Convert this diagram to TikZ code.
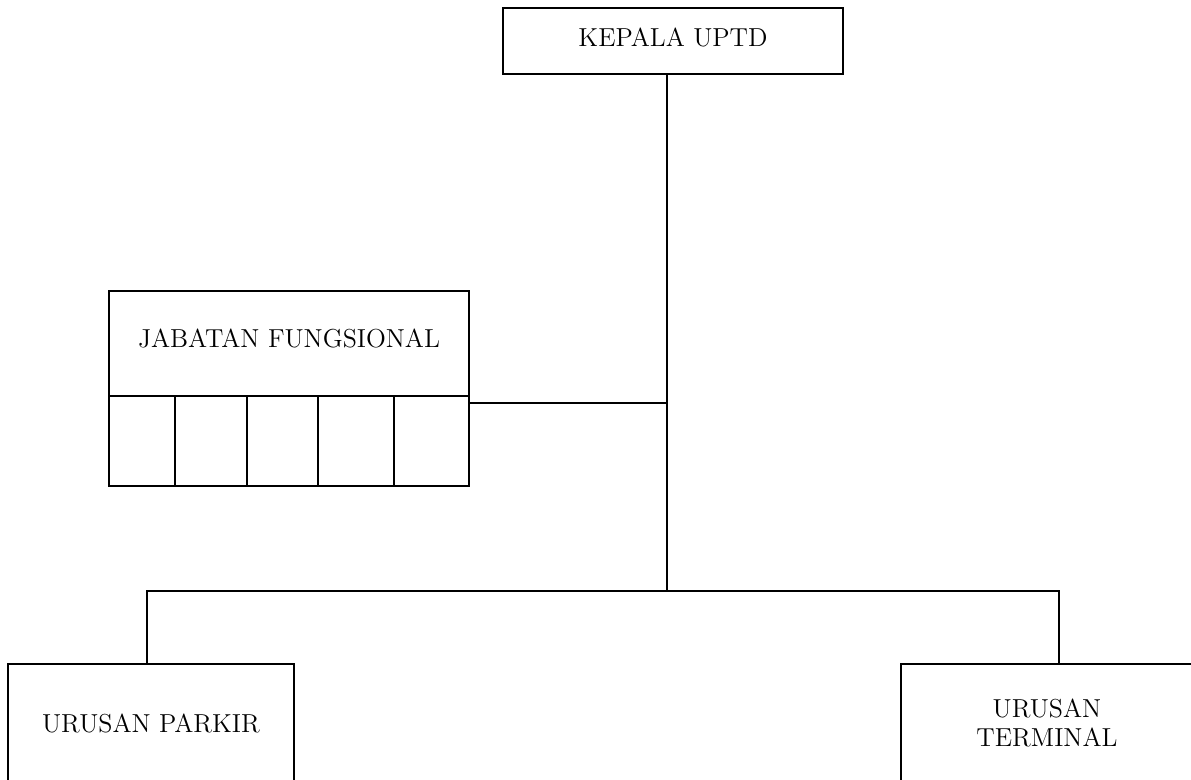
\documentclass[tikz,border=0pt]{standalone}
\usetikzlibrary{positioning}

\begin{document}
\begin{tikzpicture}[x=0.5pt,y=-0.5pt,line width=1pt]
            \tikzstyle{b}=[rectangle,draw,fill=white,inner sep=0pt,outer sep=0pt,
              font=\fontsize{13}{14.5}\selectfont,align=center]
            \tikzstyle{cell}=[rectangle,draw,inner sep=0pt,outer sep=0pt,minimum height=45pt]

            \path[use as bounding box,clip] (0,0) rectangle (1191,780);

            \node [b,text depth=4pt,minimum width=170pt,minimum height=33pt] (kepala) at (673,41) {KEPALA UPTD};
            \node [b,text depth=5pt,minimum width=180pt,minimum height=52.5pt] (jf) at (289,343.5) {JABATAN FUNGSIONAL};
            \foreach \i/\cx/\w in {1/142/33,2/211/36,3/282.5/35.5,4/356/38,5/431.5/37.5}
              \node [cell,minimum width=\w pt] (jf\i) at (\cx,441) {};
            \node [b,minimum width=143pt,minimum height=59pt] (parkir) at (151,723) {URUSAN PARKIR};
            \node [b,minimum width=146pt,minimum height=59pt] (terminal) at (1047,723) {URUSAN\\TERMINAL};

            \coordinate (hub) at (667,591);
            \coordinate (join) at (667,403);
            \coordinate (dropl) at (147,591);
            \coordinate (dropr) at (1059,591);

            \draw (kepala.south -| hub) -- (hub);
            \draw (jf5.east |- join) -- (join);
            \draw (dropl |- parkir.north) -- (dropl) -- (dropr) -- (dropr |- terminal.north);
        \end{tikzpicture}
\end{document}
